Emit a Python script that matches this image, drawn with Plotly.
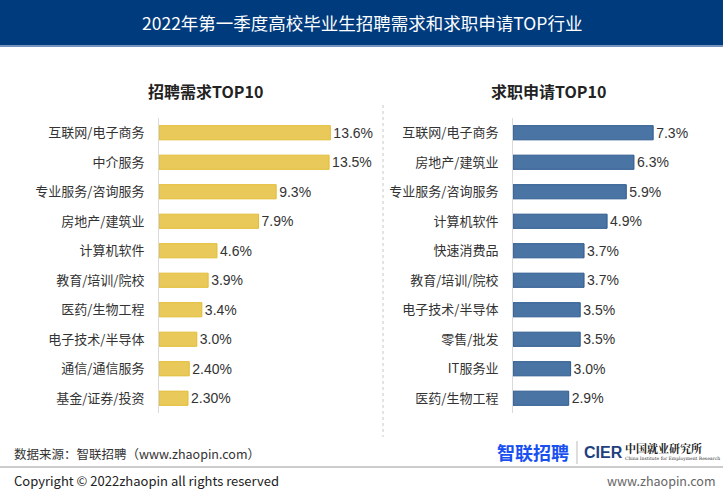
import plotly.graph_objects as go

W, H = 723, 500

title_text = "2022年第一季度高校毕业生招聘需求和求职申请TOP行业"
left_title = "招聘需求TOP10"
right_title = "求职申请TOP10"

left_categories = ["互联网/电子商务", "中介服务", "专业服务/咨询服务", "房地产/建筑业", "计算机软件",
                   "教育/培训/院校", "医药/生物工程", "电子技术/半导体", "通信/通信服务", "基金/证券/投资"]
left_values = [13.6, 13.5, 9.3, 7.9, 4.6, 3.9, 3.4, 3.0, 2.40, 2.30]
left_labels = ["13.6%", "13.5%", "9.3%", "7.9%", "4.6%", "3.9%", "3.4%", "3.0%", "2.40%", "2.30%"]

right_categories = ["互联网/电子商务", "房地产/建筑业", "专业服务/咨询服务", "计算机软件", "快速消费品",
                    "教育/培训/院校", "电子技术/半导体", "零售/批发", "IT服务业", "医药/生物工程"]
right_values = [7.3, 6.3, 5.9, 4.9, 3.7, 3.7, 3.5, 3.5, 3.0, 2.9]
right_labels = ["7.3%", "6.3%", "5.9%", "4.9%", "3.7%", "3.7%", "3.5%", "3.5%", "3.0%", "2.9%"]

source_text = "数据来源：智联招聘（www.zhaopin.com）"
copyright_text = "Copyright © 2022zhaopin all rights reserved"
site_text = "www.zhaopin.com"

CJK = "Noto Sans CJK SC"
LAT = "Liberation Sans, Noto Sans CJK SC"


def px(x):
    return x / W


def py(y):
    return 1 - y / H


fig = go.Figure()

fig.add_trace(go.Bar(
    x=left_values, y=left_categories, orientation="h",
    marker=dict(color="#E9C95A", line=dict(color="#E2BC36", width=1)),
    text=left_labels, textposition="outside", cliponaxis=False, constraintext="none",
    textfont=dict(family=LAT, size=14, color="#333333"),
    width=0.48, xaxis="x", yaxis="y", hoverinfo="skip",
))
fig.add_trace(go.Bar(
    x=right_values, y=right_categories, orientation="h",
    marker=dict(color="#4A74A4", line=dict(color="#2D5A8E", width=1)),
    text=right_labels, textposition="outside", cliponaxis=False, constraintext="none",
    textfont=dict(family=LAT, size=14, color="#333333"),
    width=0.48, xaxis="x2", yaxis="y2", hoverinfo="skip",
))

ydom = [py(413), py(118)]
left_x0, left_scale = 159, 12.6
right_x0, right_scale = 513, 19.2
left_x1, right_x1 = 355, 705

fig.update_layout(
    width=W, height=H, margin=dict(l=0, r=0, t=0, b=0),
    paper_bgcolor="white", plot_bgcolor="white", showlegend=False,
    font=dict(family=CJK, color="#333333"),
    xaxis=dict(domain=[px(left_x0), px(left_x1)],
               range=[0, (left_x1 - left_x0) / left_scale],
               visible=False, fixedrange=True),
    yaxis=dict(domain=ydom, anchor="x", type="category",
               categoryorder="array", categoryarray=left_categories,
               range=[9.5, -0.5], showline=True, linecolor="#DADADA", linewidth=1,
               showgrid=False, ticks="", ticklabelstandoff=11,
               tickfont=dict(family=CJK, size=13, color="#333333")),
    xaxis2=dict(domain=[px(right_x0), px(right_x1)],
                range=[0, (right_x1 - right_x0) / right_scale],
                visible=False, fixedrange=True),
    yaxis2=dict(domain=ydom, anchor="x2", type="category",
                categoryorder="array", categoryarray=right_categories,
                range=[9.5, -0.5], showline=True, linecolor="#DADADA", linewidth=1,
                showgrid=False, ticks="", ticklabelstandoff=11,
                tickfont=dict(family=CJK, size=13, color="#333333")),
)

shapes = [
    dict(type="rect", xref="paper", yref="paper", x0=0, x1=1, y0=py(45), y1=1,
         fillcolor="#003B7E", line=dict(width=0), layer="below"),
    dict(type="line", xref="paper", yref="paper", x0=0, x1=1, y0=py(46), y1=py(46),
         line=dict(color="#7394BE", width=2)),
    dict(type="line", xref="paper", yref="paper", x0=px(383), x1=px(383), y0=py(105), y1=py(437),
         line=dict(color="#C8C8C8", width=1, dash="dot")),
    dict(type="line", xref="paper", yref="paper", x0=0, x1=1, y0=py(467), y1=py(467),
         line=dict(color="#CCCCCC", width=2)),
    dict(type="line", xref="paper", yref="paper", x0=px(577), x1=px(577), y0=py(441), y1=py(464),
         line=dict(color="#BBBBBB", width=1)),
]
fig.update_layout(shapes=shapes)

ann = [
    dict(text=title_text, x=px(362), y=py(22), font=dict(family=CJK, size=17.5, color="white")),
    dict(text="<b>" + left_title + "</b>", x=px(205), y=py(91), font=dict(family=CJK, size=16, color="#222222")),
    dict(text="<b>" + right_title + "</b>", x=px(548), y=py(91), font=dict(family=CJK, size=16, color="#222222")),
    dict(text=source_text, x=px(12), y=py(453), xanchor="left", font=dict(family=CJK, size=12.5, color="#333333")),
    dict(text=copyright_text, x=px(12), y=py(480), xanchor="left", font=dict(family=CJK, size=13, color="#222222")),
    dict(text=site_text, x=px(717), y=py(480), xanchor="right", font=dict(family=CJK, size=12.5, color="#666666")),
    dict(text="<b>智联招聘</b>", x=px(533), y=py(452), font=dict(family=CJK, size=18, color="#1A4FF0")),
    dict(text="<b>CIER</b>", x=px(582), y=py(452), xanchor="left", font=dict(family=LAT, size=16, color="#1F3F7F")),
    dict(text="<b>中国就业研究所</b>", x=px(623), y=py(448), xanchor="left", font=dict(family="Noto Serif CJK SC, Noto Sans CJK SC", size=11, color="#222222")),
    dict(text="China Institute for Employment Research", x=px(623), y=py(458), xanchor="left", font=dict(family="DejaVu Serif", size=4.5, color="#333333")),
]
for a in ann:
    a.update(xref="paper", yref="paper", showarrow=False, yanchor="middle")
    a.setdefault("xanchor", "center")
fig.update_layout(annotations=ann)

fig.write_html("out.html")
